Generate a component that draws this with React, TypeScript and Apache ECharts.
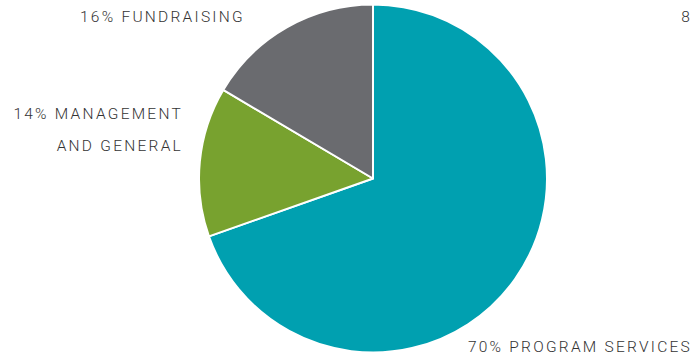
import React, { useEffect, useRef } from "react";
import * as echarts from "echarts";

const categories = ["PROGRAM SERVICES", "MANAGEMENT AND GENERAL", "FUNDRAISING"];
const values = [69.6, 13.9, 16.5];
const colors = ["#00A0B0", "#78A22F", "#6A6B6F"];
const labelLines = [["70% PROGRAM SERVICES"], ["14% MANAGEMENT", "AND GENERAL"], ["16% FUNDRAISING"]];
const pageNumber = "8";

export default function App() {
  const ref = useRef<HTMLDivElement>(null);
  useEffect(() => {
    const chart = echarts.init(ref.current!, null, { renderer: "svg" });
    const font = { fontFamily: "Roboto", fontWeight: 300, fontSize: 15.5, fill: "#333333" };
    chart.setOption({
      animation: false,
      series: [
        {
          type: "pie",
          center: [373, 178.5],
          radius: 174,
          startAngle: 90,
          clockwise: true,
          label: { show: false },
          labelLine: { show: false },
          itemStyle: { borderColor: "#ffffff", borderWidth: 2 },
          data: categories.map((c, i) => ({ name: c, value: values[i], itemStyle: { color: colors[i] } })),
        },
      ],
      graphic: [
        { type: "text", x: 692, y: 347, style: { ...font, text: labelLines[0][0], textAlign: "right", textVerticalAlign: "middle" } },
        { type: "text", x: 183, y: 114, style: { ...font, text: labelLines[1][0], textAlign: "right", textVerticalAlign: "middle" } },
        { type: "text", x: 183, y: 146, style: { ...font, text: labelLines[1][1], textAlign: "right", textVerticalAlign: "middle" } },
        { type: "text", x: 80, y: 17, style: { ...font, text: labelLines[2][0], textAlign: "left", textVerticalAlign: "middle" } },
        { type: "text", x: 692, y: 17, style: { ...font, text: pageNumber, textAlign: "right", textVerticalAlign: "middle" } },
      ],
    });
    return () => chart.dispose();
  }, []);
  return (
    <>
      <style>{`.pie-wrap svg text { letter-spacing: 2.25px; }`}</style>
      <div className="pie-wrap" ref={ref} style={{ width: 692, height: 358, position: "absolute", left: 0, top: 0 }} />
    </>
  );
}
